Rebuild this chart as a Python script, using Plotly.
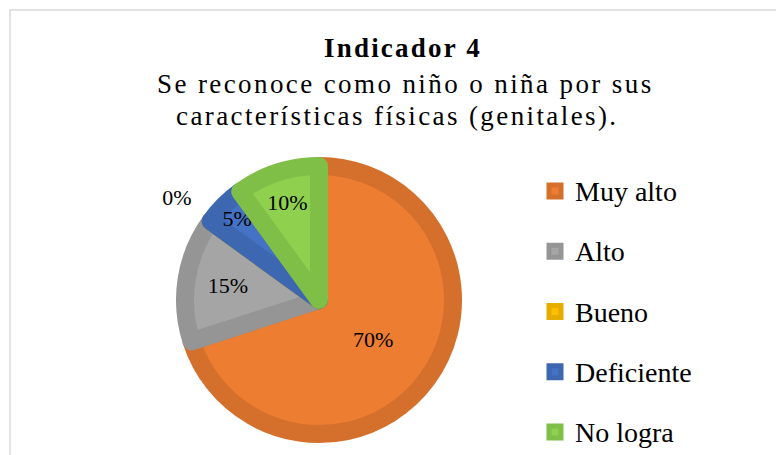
import plotly.graph_objects as go

# ---- data ----
categories = ["Muy alto", "Alto", "Bueno", "Deficiente", "No logra"]
values = [70, 15, 0, 5, 10]
title_main = "Indicador 4"
title_lines = ["Se reconoce como niño o niña por sus",
               "características físicas (genitales)."]

# ---- style ----
W, H = 784, 455
OX, OY = 8, 8          # page body margin offset
fill_colors = ["#ED7D31", "#A5A5A5", "#FFC000", "#4472C4", "#8FD14F"]
line_colors = ["#D5702C", "#959595", "#E6AC00", "#3E67B2", "#80BF47"]
FONT = "Liberation Serif, Times New Roman, serif"


def px(x):
    return (x - OX) / W


def py(y):
    return 1 - (y - OY) / H


cx, cy, r_fill, stroke = 319, 300, 134, 18

legend_labels = [
    f"<span style='font-size:28px;baseline-shift:7px'>{c}</span>" for c in categories
]
text_pos = ["inside" if v > 0 else "outside" for v in values]
text_tpl = ["%{percent:.0%}" if v > 0 else "%{percent:.0%}&nbsp;<br>&nbsp;"
            for v in values]

fig = go.Figure(go.Pie(
    labels=legend_labels,
    values=values,
    sort=False,
    direction="clockwise",
    rotation=0,
    texttemplate=text_tpl,
    textposition=text_pos,
    insidetextorientation="horizontal",
    textfont=dict(family=FONT, size=22, color="black"),
    marker=dict(colors=fill_colors, line=dict(color=line_colors, width=stroke)),
    domain=dict(x=[px(cx - r_fill), px(cx + r_fill)],
                y=[py(cy + r_fill), py(cy - r_fill)]),
    hoverinfo="label+percent",
))

fig.update_layout(
    width=W, height=H,
    margin=dict(l=0, r=0, t=0, b=0, autoexpand=False),
    paper_bgcolor="white",
    plot_bgcolor="white",
    font=dict(family=FONT, color="black"),
    uniformtext=dict(minsize=22, mode="show"),
    showlegend=True,
    legend=dict(
        x=px(535), y=py(156), xanchor="left", yanchor="top",
        font=dict(family=FONT, size=44, color="black"),
        bgcolor="rgba(0,0,0,0)",
    ),
    shapes=[dict(type="rect", xref="paper", yref="paper",
                 x0=px(10), x1=px(W + 40), y0=py(H + 40), y1=py(10),
                 line=dict(color="#D9D9D9", width=1.5), layer="below")],
    annotations=[
        dict(text=f"<b><span style='letter-spacing:2.2px'>{title_main}</span></b>",
             x=px(403), y=py(48),
             xref="paper", yref="paper", xanchor="center", yanchor="middle",
             showarrow=False, font=dict(family=FONT, size=27, color="black")),
        dict(text=f"<span style='letter-spacing:2.4px'>{title_lines[0]}</span>",
             x=px(405), y=py(84),
             xref="paper", yref="paper", xanchor="center", yanchor="middle",
             showarrow=False, font=dict(family=FONT, size=27, color="black")),
        dict(text=f"<span style='letter-spacing:2.4px'>{title_lines[1]}</span>",
             x=px(397), y=py(116),
             xref="paper", yref="paper", xanchor="center", yanchor="middle",
             showarrow=False, font=dict(family=FONT, size=27, color="black")),
    ],
)

fig.write_html("out.html")
